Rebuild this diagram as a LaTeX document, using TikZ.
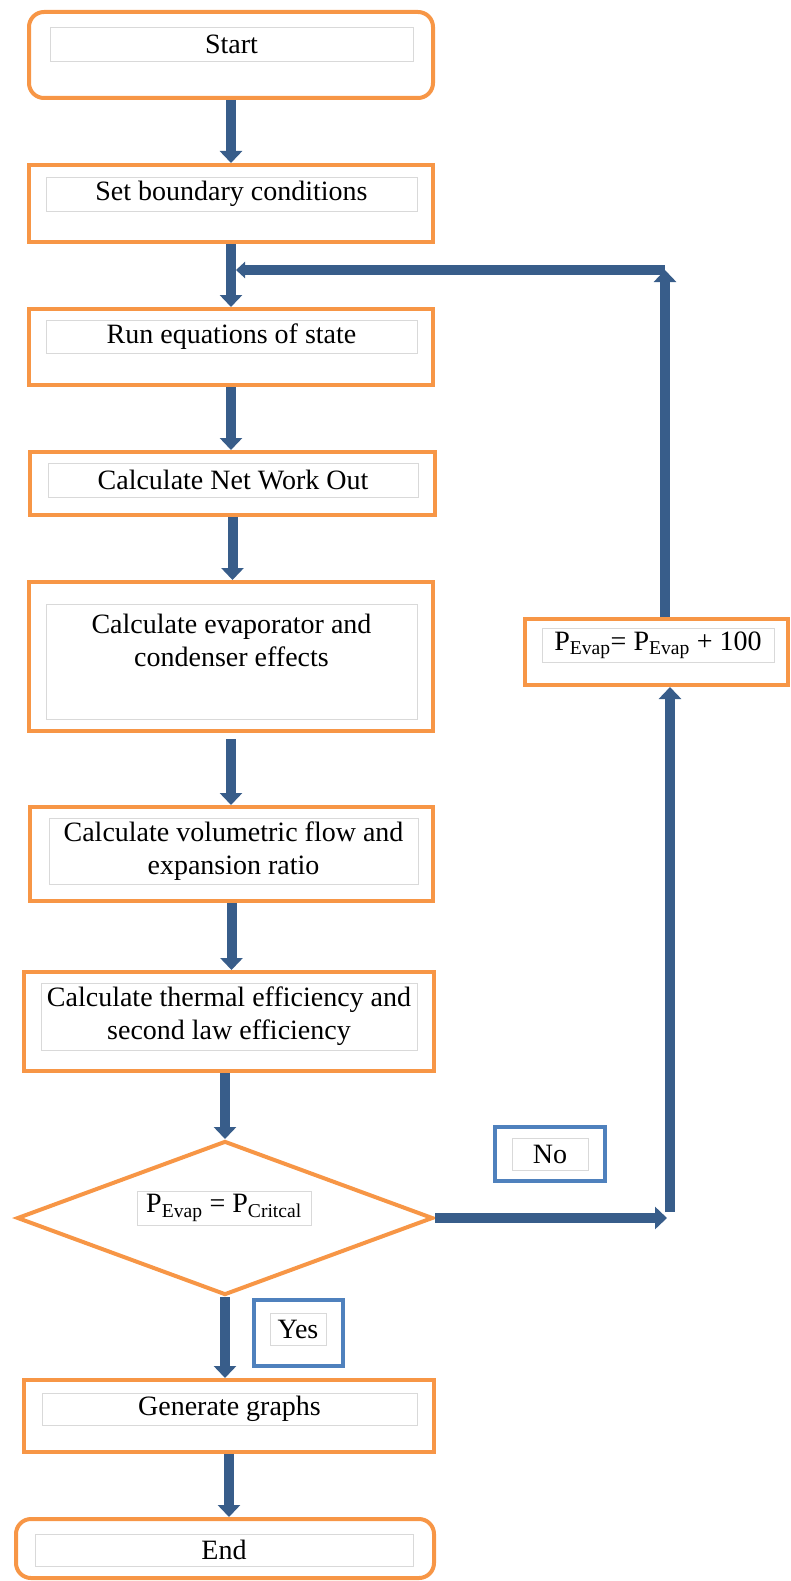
\documentclass[tikz,border=0pt]{standalone}
\usepackage{fontspec}
\setmainfont{Liberation Serif}
\usetikzlibrary{arrows.meta,shapes.geometric}

\definecolor{boxorange}{HTML}{F79646}
\definecolor{flowblue}{HTML}{385D8A}
\definecolor{tagblue}{HTML}{4F81BD}
\definecolor{framegray}{HTML}{D9D9D9}

\begin{document}
\begin{tikzpicture}[
  x=1pt, y=-1pt,
  flow/.style={-{Triangle[width=22pt,length=12pt]}, line width=10pt, draw=flowblue},
  block/.style={rectangle, draw=boxorange, line width=4pt, inner sep=0pt},
  terminal/.style={block, rounded corners=15pt},
  decision/.style={diamond, draw=boxorange, line width=4pt, inner sep=0pt},
  tag/.style={block, draw=tagblue},
  txt/.style={
    rectangle,
    draw=framegray,
    line width=0.8pt,
    inner sep=1pt,
    align=center,
    font=\fontsize{28}{33}\selectfont
  }
]
  \useasboundingbox (0,0) rectangle (790,1581);

  % outer boxes
  \node[terminal, minimum width=404pt, minimum height=86pt] (start) at (231,55) {};
  \node[block, minimum width=404pt, minimum height=77pt] (setbc) at (231,203.5) {};
  \node[block, minimum width=404pt, minimum height=76pt] (runeos) at (231,347) {};
  \node[block, minimum width=405pt, minimum height=63pt] (netwk) at (232.5,483.5) {};
  \node[block, minimum width=404pt, minimum height=149pt] (evapc) at (231,656.5) {};
  \node[block, minimum width=403pt, minimum height=94pt] (volflow) at (231.5,854) {};
  \node[block, minimum width=410pt, minimum height=99pt] (theff) at (229,1021.5) {};
  \node[decision, minimum width=416pt, minimum height=154pt] (decide) at (225,1218) {};
  \node[block, minimum width=410pt, minimum height=72pt] (graphs) at (229,1416) {};
  \node[terminal, minimum width=418pt, minimum height=59pt] (finish) at (225,1548.5) {};
  \node[block, minimum width=263pt, minimum height=66pt] (update) at (656.5,652) {};
  \node[tag, minimum width=110pt, minimum height=54pt] (notag) at (550,1154) {};
  \node[tag, minimum width=89pt, minimum height=66pt] (yestag) at (298.5,1333) {};

  % text frames
  \node[txt, minimum width=363pt, minimum height=34pt] (startT) at (231.5,44) {Start};
  \node[txt, minimum width=371pt, minimum height=34pt] (setbcT) at (231.5,194) {Set boundary conditions};
  \node[txt, minimum width=371pt, minimum height=33pt] (runeosT) at (231.5,336.5) {Run equations of state};
  \node[txt, minimum width=370pt, minimum height=34pt] (netwkT) at (233,480) {Calculate Net Work Out};
  \node[txt, minimum width=371pt, minimum height=115pt] (evapcT) at (231.5,661.5)
    {Calculate evaporator and\\condenser effects\\\strut};
  \node[txt, minimum width=369pt, minimum height=66pt] (volflowT) at (233.5,851)
    {Calculate volumetric flow and\\expansion ratio};
  \node[txt, minimum width=376pt, minimum height=67pt] (theffT) at (229,1016.5)
    {Calculate thermal efficiency and\\second law efficiency};
  \node[txt, minimum width=174pt, minimum height=34pt] (decideT) at (224,1208)
    {P\textsubscript{Evap} = P\textsubscript{Critcal}};
  \node[txt, minimum width=375pt, minimum height=32pt] (graphsT) at (229.5,1409) {Generate graphs};
  \node[txt, minimum width=378pt, minimum height=32pt] (finishT) at (224,1550) {End};
  \node[txt, minimum width=232pt, minimum height=34pt] (updateT) at (658,645)
    {P\textsubscript{Evap}= P\textsubscript{Evap} + 100};
  \node[txt, minimum width=76pt, minimum height=32pt] (noT) at (550,1154) {No};
  \node[txt, minimum width=56pt, minimum height=32pt] (yesT) at (298,1329) {Yes};

  % main column
  \draw[flow] (start.south) -- (start.south |- setbc.north);
  \draw[flow] (setbc.south) -- (setbc.south |- runeos.north);
  \draw[flow] (runeos.south) -- (runeos.south |- netwk.north);
  \draw[flow] (netwk.south) -- (netwk.south |- evapc.north);
  \draw[flow, shorten <=6pt] (evapc.south) -- (evapc.south |- volflow.north);
  \draw[flow] (volflow.south) -- (volflow.south |- theff.north);
  \draw[flow] (theff.south -| decide.north) -- (decide.north);
  \draw[flow] (decide.south) -- (decide.south |- graphs.north);
  \draw[flow] (graphs.south) -- (graphs.south |- finish.north);

  % loop back
  \coordinate (noturn) at (670,1212);
  \coordinate (looptop) at (665,270);
  \coordinate (loopin) at (236,270);
  \draw[flow, shorten >=3pt] (decide.east) -- (decide.east -| noturn);
  \draw[flow] (noturn) -- (noturn |- update.south);
  \draw[flow] (update.north -| looptop) -- (looptop);
  \draw[flow, -{Triangle[width=16pt,length=9pt]}] (looptop) -- (loopin);
\end{tikzpicture}
\end{document}
